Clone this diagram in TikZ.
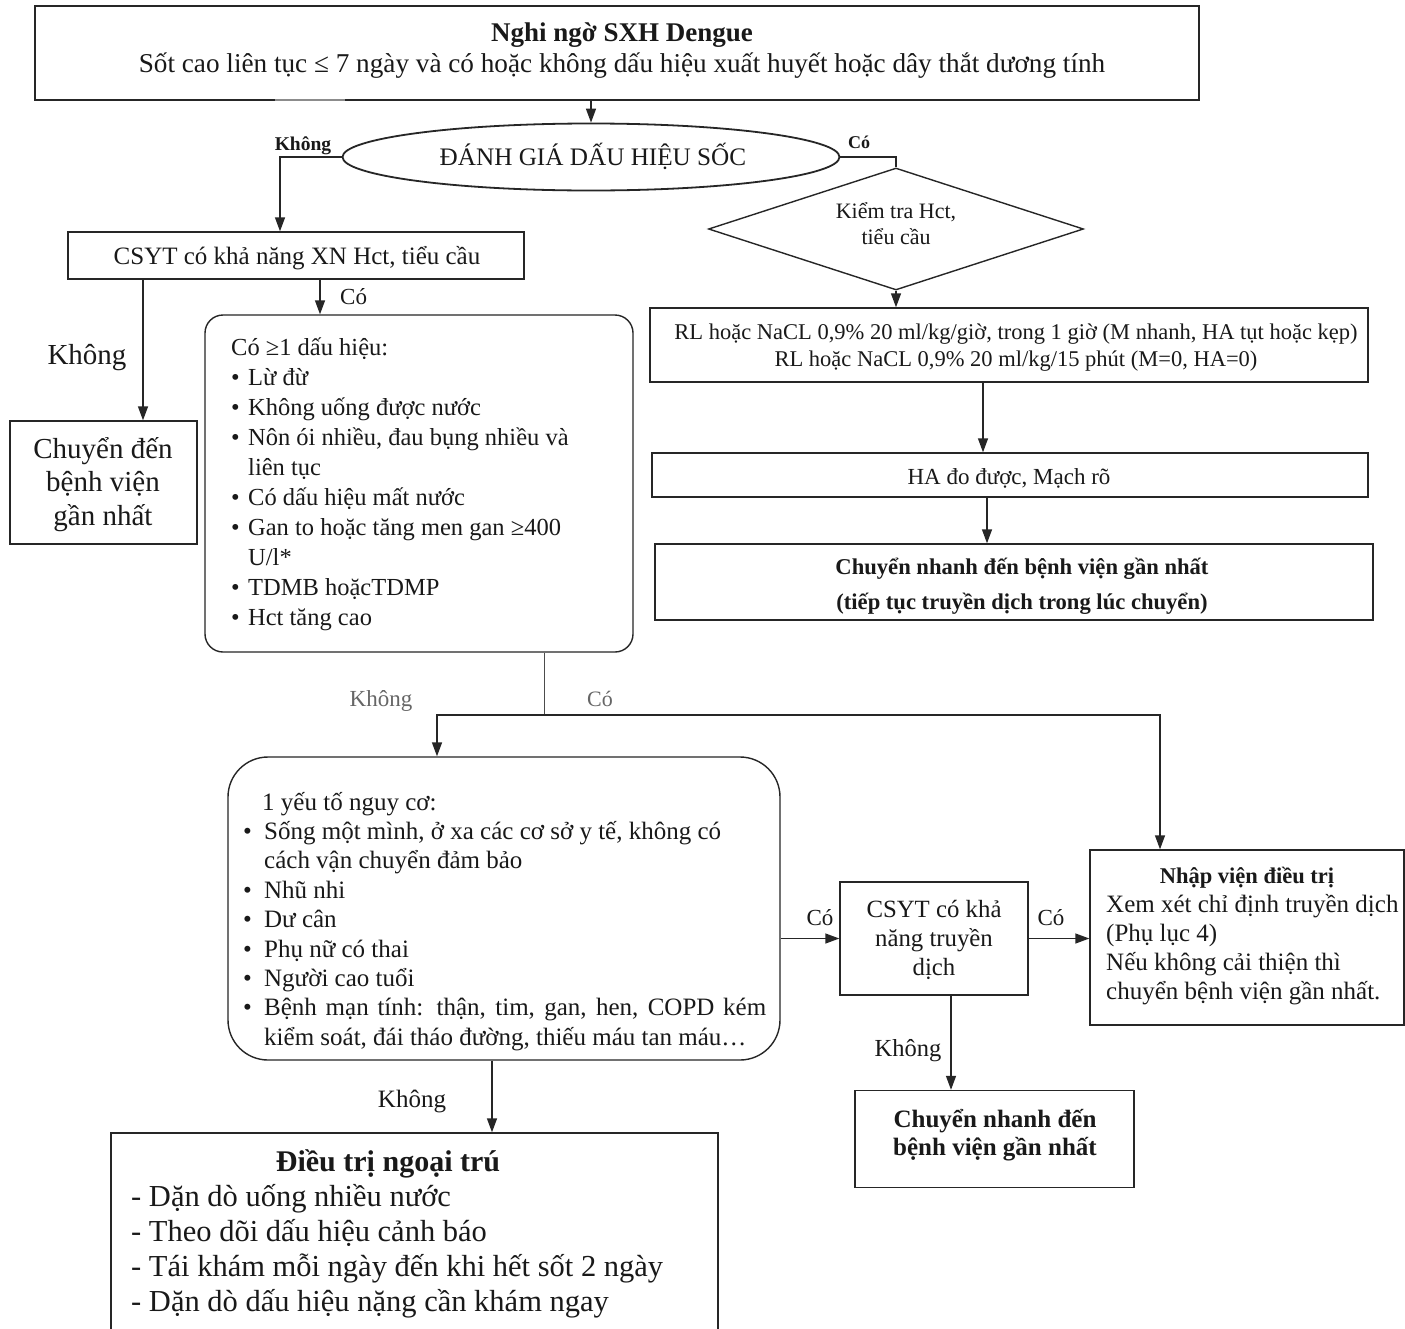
\documentclass[tikz,border=0pt]{standalone}
\usepackage{fontspec}
\setmainfont{Liberation Serif}
\usetikzlibrary{shapes.geometric,arrows.meta}
\newcommand{\myb}[1]{\makebox[17pt][l]{•}#1}
\newcommand{\myc}[1]{\hspace*{17pt}#1}
\newcommand{\myrb}[1]{\makebox[21pt][l]{•}#1}
\newcommand{\myrc}[1]{\hspace*{21pt}#1}
\newcommand{\fs}[2]{\fontsize{#1}{#2}\selectfont}
\tikzset{
  box/.style={draw=black!85, line width=1.4pt, inner sep=0pt},
  arr/.style={-{Triangle[length=14pt,width=10pt]}, line width=1.4pt, draw=black!85},
  ln/.style={line width=1.4pt, draw=black!85},
  txt/.style={inner sep=0pt, text=black!90},
  glbl/.style={inner sep=0pt, text=black!60}
}
\begin{document}
\begin{tikzpicture}[x=1pt,y=-1pt]
\useasboundingbox (0,0) rectangle (1405,1328);
\fill[white] (0,0) rectangle (1405,1328);

% ---- boxes ----
\node[box, minimum width=1164pt, minimum height=94pt] (top) at (617,53) {};
\node[box, ellipse, line width=1.8pt, minimum width=497pt, minimum height=67pt] (ell) at (591,157) {};
\node[box, diamond, minimum width=375pt, minimum height=122pt] (dia) at (896,229) {};
\node[box, minimum width=718pt, minimum height=74pt] (rl) at (1009,345) {};
\node[box, minimum width=716pt, minimum height=44pt] (ha) at (1010,475) {};
\node[box, minimum width=718pt, minimum height=76pt] (cn1) at (1014,582) {};
\node[box, minimum width=456pt, minimum height=47pt] (csyt) at (296,255.5) {};
\node[box, minimum width=187pt, minimum height=123pt] (cd) at (103.5,482.5) {};
\node[box, rounded corners=18pt, minimum width=428pt, minimum height=337pt] (signs) at (419,483.5) {};
\node[box, rounded corners=40pt, minimum width=552pt, minimum height=303pt] (risk) at (504,908.5) {};
\node[box, minimum width=188pt, minimum height=113pt] (csyt2) at (934,938.5) {};
\node[box, minimum width=314pt, minimum height=175pt] (nv) at (1247,937.5) {};
\node[box, minimum width=279pt, minimum height=97pt] (cn2) at (994.5,1139) {};
\node[box, minimum width=607pt, minimum height=215pt] (out) at (414.5,1240.5) {};
\draw[black!45, line width=2.5pt] (275,100) -- (345,100);

% ---- texts ----
\node[txt, anchor=base, font=\bfseries\fs{27}{31}] (topt1) at (622,41) {Nghi ngờ SXH Dengue};
\node[txt, anchor=base, font=\fs{27.2}{31}] (topt2) at (622,72) {Sốt cao liên tục ≤ 7 ngày và có hoặc không dấu hiệu xuất huyết hoặc dây thắt dương tính};
\node[txt, anchor=base, font=\fs{25.2}{30}] (ellt) at (593,165) {ĐÁNH GIÁ DẤU HIỆU SỐC};
\node[txt, anchor=base, font=\fs{22}{26}] (diat) at (896,218) {\begin{tabular}[t]{@{}c@{}}Kiểm tra Hct,\\ tiểu cầu\end{tabular}};
\node[txt, anchor=base, font=\fs{22.5}{27}] (rlt) at (1016,339) {\begin{tabular}[t]{@{}c@{}}RL hoặc NaCL 0,9\% 20 ml/kg/giờ, trong 1 giờ (M nhanh, HA tụt hoặc kẹp)\\ RL hoặc NaCL 0,9\% 20 ml/kg/15 phút (M=0, HA=0)\end{tabular}};
\node[txt, anchor=base, font=\fs{23}{27}] (hat) at (1009,484) {HA đo được, Mạch rõ};
\node[txt, anchor=base, font=\bfseries\fs{22.6}{35}] (cn1t) at (1022,574) {\begin{tabular}[t]{@{}c@{}}Chuyển nhanh đến bệnh viện gần nhất\\ (tiếp tục truyền dịch trong lúc chuyển)\end{tabular}};
\node[txt, anchor=base, font=\fs{25}{30}] (csytt) at (297,264) {CSYT có khả năng XN Hct, tiểu cầu};
\node[txt, anchor=base, font=\fs{29}{33.5}] (cdt) at (103,458) {\begin{tabular}[t]{@{}c@{}}Chuyển đến\\ bệnh viện\\ gần nhất\end{tabular}};
\node[txt, anchor=base west, font=\fs{24.5}{30}] (signst) at (231,355) {\begin{tabular}[t]{@{}l@{}}Có ≥1 dấu hiệu:\\
\myb{Lừ đừ}\\
\myb{Không uống được nước}\\
\myb{Nôn ói nhiều, đau bụng nhiều và}\\
\myc{liên tục}\\
\myb{Có dấu hiệu mất nước}\\
\myb{Gan to hoặc tăng men gan ≥400}\\
\myc{U/l*}\\
\myb{TDMB hoặcTDMP}\\
\myb{Hct tăng cao}\end{tabular}};
\node[txt, anchor=base west, font=\fs{25}{29.4}] (riskt) at (243,810) {\begin{tabular}[t]{@{}l@{}}\hspace*{19pt}1 yếu tố nguy cơ:\\
\myrb{Sống một mình, ở xa các cơ sở y tế, không có}\\
\myrc{cách vận chuyển đảm bảo}\\
\myrb{Nhũ nhi}\\
\myrb{Dư cân}\\
\myrb{Phụ nữ có thai}\\
\myrb{Người cao tuổi}\\
\myrb{\makebox[502pt][s]{Bệnh mạn tính: thận, tim, gan, hen, COPD kém}}\\
\myrc{kiểm soát, đái tháo đường, thiếu máu tan máu…}\end{tabular}};
\node[txt, anchor=base, font=\fs{24.8}{29}] (csyt2t) at (934,917) {\begin{tabular}[t]{@{}c@{}}CSYT có khả\\ năng truyền\\ dịch\end{tabular}};
\node[txt, anchor=base, font=\bfseries\fs{22.5}{29}] (nvt1) at (1247,883) {Nhập viện điều trị};
\node[txt, anchor=base west, font=\fs{25}{29}] (nvt2) at (1106,912) {\begin{tabular}[t]{@{}l@{}}Xem xét chỉ định truyền dịch\\ (Phụ lục 4)\\ Nếu không cải thiện thì\\ chuyển bệnh viện gần nhất.\end{tabular}};
\node[txt, anchor=base, font=\bfseries\fs{25}{28}] (cn2t) at (995,1127) {\begin{tabular}[t]{@{}c@{}}Chuyển nhanh đến\\ bệnh viện gần nhất\end{tabular}};
\node[txt, anchor=base, font=\bfseries\fs{30}{35}] (outt1) at (388,1171) {Điều trị ngoại trú};
\node[txt, anchor=base west, font=\fs{30.5}{35}] (outt2) at (131,1206) {\begin{tabular}[t]{@{}l@{}}- Dặn dò uống nhiều nước\\ - Theo dõi dấu hiệu cảnh báo\\ - Tái khám mỗi ngày đến khi hết sốt 2 ngày\\ - Dặn dò dấu hiệu nặng cần khám ngay\end{tabular}};

% ---- connectors ----
\draw[arr] (ell.north |- top.south) -- (ell.north);
\draw[arr] (ell.west) -| ([xshift=-16pt]csyt.north);
\node[txt, anchor=base, font=\bfseries\fs{19.5}{22}] (lk1) at (303,150) {Không};
\draw[ln] (ell.east) -| (dia.north);
\node[txt, anchor=base, font=\bfseries\fs{18}{20}] (lc1) at (859,148) {Có};
\draw[arr] (dia.south) -- (dia.south |- rl.north);
\draw[arr] ([xshift=-26pt]rl.south) -- ([xshift=-26pt]rl.south |- ha.north);
\draw[arr] ([xshift=-23pt]ha.south) -- ([xshift=-23pt]ha.south |- cn1.north);
\draw[arr] ([xshift=24pt]csyt.south) -- ([xshift=24pt]csyt.south |- signs.north);
\node[txt, anchor=base west, font=\fs{23}{28}] (lc2) at (340,304) {Có};
\draw[arr] ([xshift=-153pt]csyt.south) -- ([xshift=-153pt]csyt.south |- cd.north);
\node[txt, anchor=base, font=\fs{29}{33}] (lk2) at (87,364) {Không};
\coordinate (sp) at (544,715);
\draw[ln, line width=1pt, draw=black!70] (signs.south -| sp) -- (sp);
\draw[arr] (sp) -| ([xshift=-67pt]risk.north);
\draw[arr] (sp) -| ([xshift=-87pt]nv.north);
\node[glbl, anchor=base, font=\fs{23}{26}] (lk3) at (381,706) {Không};
\node[glbl, anchor=base, font=\fs{22}{26}] (lc3) at (600,706) {Có};
\draw[arr] (risk.east |- csyt2.west) -- (csyt2.west);
\node[txt, anchor=base, font=\fs{23}{26}] (lc4) at (820,925) {Có};
\draw[arr] (csyt2.east) -- (csyt2.east -| nv.west);
\node[txt, anchor=base, font=\fs{23}{26}] (lc5) at (1051,925) {Có};
\draw[arr] ([xshift=17pt]csyt2.south) -- ([xshift=17pt]csyt2.south |- cn2.north);
\node[txt, anchor=base, font=\fs{24.5}{26}] (lk4) at (908,1056) {Không};
\draw[arr] ([xshift=-12pt]risk.south) -- ([xshift=-12pt]risk.south |- out.north);
\node[txt, anchor=base, font=\fs{25}{26}] (lk5) at (412,1107) {Không};
\end{tikzpicture}
\end{document}
